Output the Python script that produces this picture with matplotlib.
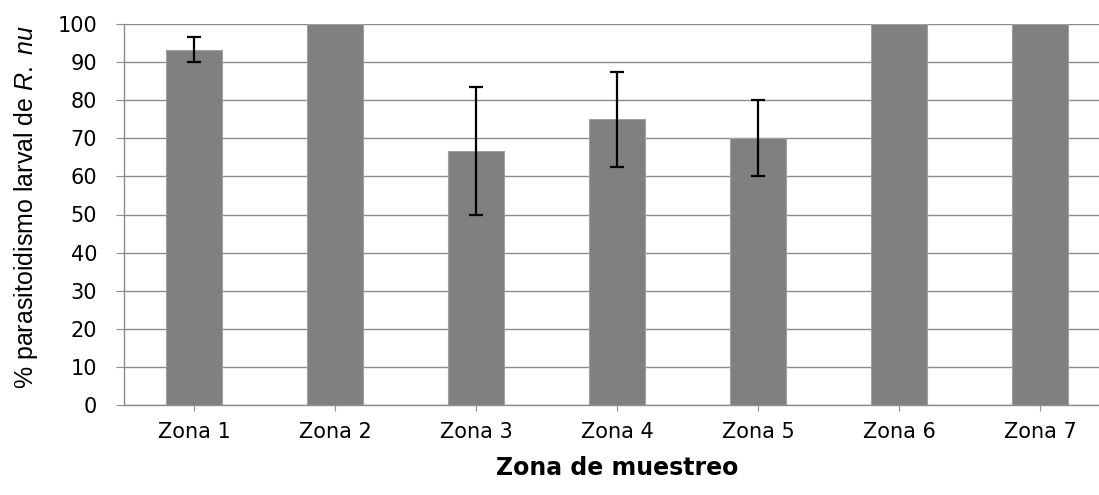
import numpy as np
import matplotlib
matplotlib.use('Agg')
import matplotlib.pyplot as plt

# data
zonas = ['Zona 1', 'Zona 2', 'Zona 3', 'Zona 4', 'Zona 5', 'Zona 6', 'Zona 7']
parasitoidismo = [93.3, 100, 66.7, 75, 70, 100, 100]
error = [3.3, 0, 16.7, 12.5, 10, 0, 0]

# reference text looks horizontally stretched, DejaVu's wide glyphs get closer
plt.rcParams['font.family'] = ['DejaVu Sans']
plt.rcParams['mathtext.fontset'] = 'custom'
plt.rcParams['mathtext.rm'] = 'Liberation Sans'
plt.rcParams['mathtext.it'] = 'Liberation Sans:italic'

fig = plt.figure(figsize=(10.99, 4.95), dpi=100)
# the right edge of the plot area is cut off in the reference
ax = fig.add_axes([123.5 / 1099, 1 - 405 / 495, 987 / 1099, 381 / 495])

x = np.arange(len(zonas))
ax.bar(x, parasitoidismo, width=0.4, color='#808080', edgecolor='#a0a0a0',
       linewidth=0.8, zorder=2)

# only draw error bars where there is one
has_err = [i for i, e in enumerate(error) if e > 0]
ax.errorbar(x[has_err], [parasitoidismo[i] for i in has_err],
            yerr=[error[i] for i in has_err], fmt='none', ecolor='black',
            elinewidth=1.6, capsize=5, capthick=1.6, zorder=3)

ax.set_xlim(-0.5, len(zonas) - 0.5)
ax.set_ylim(0, 100)
ax.set_yticks(np.arange(0, 101, 10))
ax.set_xticks(x)
ax.set_xticklabels(zonas)

ax.yaxis.grid(True, color='#8c8c8c', linewidth=1.0, zorder=0)
ax.set_axisbelow(True)
for s in ['top', 'right']:
    ax.spines[s].set_visible(False)
for s in ['left', 'bottom']:
    ax.spines[s].set_color('#8c8c8c')
    ax.spines[s].set_linewidth(1.0)

ax.tick_params(axis='y', length=6, color='#8c8c8c', labelsize=15, pad=13)
ax.tick_params(axis='x', length=4, color='#8c8c8c', labelsize=15, pad=8)

ylab = ax.set_ylabel('% parasitoidismo larval de $R.\\ nu$', fontsize=18,
                     family='Liberation Sans', labelpad=6)
ax.yaxis.set_label_coords(-0.085, 0.52)
ax.set_xlabel('Zona de muestreo', fontsize=17, fontweight='bold', labelpad=10)

fig.savefig('out.png', dpi=100)
